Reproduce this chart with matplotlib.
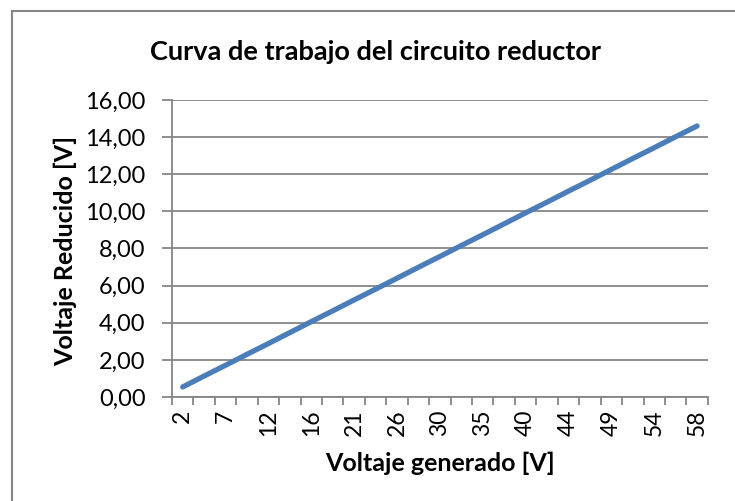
import matplotlib
matplotlib.use("Agg")
import matplotlib.pyplot as plt
from matplotlib.lines import Line2D

# datos
voltaje_generado = [2.4, 4.7, 7.0, 9.4, 11.7, 14.0, 16.4, 18.7, 21.0, 23.3, 25.7, 28.0, 30.3,
                    32.6, 35.0, 37.3, 39.6, 41.9, 44.2, 46.6, 48.9, 51.2, 53.6, 55.9, 58.2]
voltaje_reducido = [0.54, 1.13, 1.71, 2.30, 2.88, 3.47, 4.06, 4.64, 5.23, 5.81, 6.40, 6.99, 7.57,
                    8.16, 8.74, 9.33, 9.92, 10.50, 11.09, 11.67, 12.26, 12.85, 13.43, 14.02, 14.60]
y_ticks = [0, 2, 4, 6, 8, 10, 12, 14, 16]

plt.rcParams['font.family'] = ['Lato', 'DejaVu Sans']
gris = '#868686'
azul = '#4A7EBB'

fig = plt.figure(figsize=(7.35, 5.01), dpi=100)
ax = fig.add_axes([0.234, 0.2076, 0.729, 0.5928])

pos = list(range(len(voltaje_generado)))
ax.plot(pos, voltaje_reducido, color=azul, lw=3.8, solid_capstyle='round')

ax.set_xlim(-0.5, len(pos) - 0.5)
ax.set_ylim(0, 16)

# eje de categorias: marcas entre categorias, etiqueta cada 2
ax.set_xticks([p - 0.5 for p in pos] + [len(pos) - 0.5])
ax.set_xticklabels([])
ax.set_xticks(pos[::2], minor=True)
ax.set_xticklabels([f"{v:.0f}" for v in voltaje_generado[::2]], minor=True, rotation=90)
ax.tick_params(axis='x', which='minor', length=0, pad=9, labelsize=16.5)
ax.tick_params(axis='x', which='major', length=6, width=1.3, color=gris, direction='out')

ax.set_yticks(y_ticks)
ax.set_yticklabels([f"{v:.2f}".replace('.', ',') for v in y_ticks])
ax.tick_params(axis='y', length=7, width=1.3, color=gris, labelsize=17, pad=12)

ax.grid(axis='y', color=gris, lw=1.3)
ax.set_axisbelow(True)
for s in ['top', 'right']:
    ax.spines[s].set_visible(False)
for s in ['left', 'bottom']:
    ax.spines[s].set_color(gris)
    ax.spines[s].set_linewidth(1.3)

fig.text(440 / 735, 1 - 463 / 501, 'Voltaje generado [V]', ha='center', va='center',
         fontsize=18, fontweight='bold')
fig.text(65 / 735, 1 - 251 / 501, 'Voltaje Reducido [V]', ha='center', va='center',
         rotation=90, fontsize=18, fontweight='bold')

fig.text(375 / 735, 1 - 52 / 501, 'Curva de trabajo del circuito reductor',
         ha='center', va='center', fontsize=19.5, fontweight='bold')

# borde del grafico
fig.add_artist(Line2D([12 / 735, 1], [1 - 11 / 501, 1 - 11 / 501], color=gris, lw=1.5,
                      transform=fig.transFigure))
fig.add_artist(Line2D([12 / 735, 12 / 735], [0, 1 - 11 / 501], color=gris, lw=1.5,
                      transform=fig.transFigure))

fig.savefig('out.png', dpi=100)
